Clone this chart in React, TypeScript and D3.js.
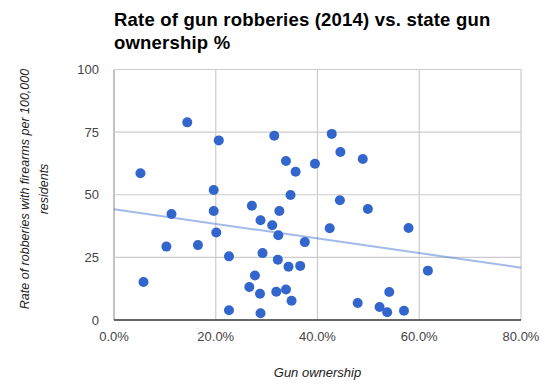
import { useRef, useEffect } from 'react';
import * as d3 from 'd3';

// ---------------------------------------------------------------------------
// Data (gun ownership %, gun robberies per 100k)
// ---------------------------------------------------------------------------
const OWNERSHIP = [
  14.4, 20.6, 31.5, 33.8, 35.7, 39.5, 5.2, 19.6, 34.7, 42.8, 44.5, 48.9, 44.4, 11.3, 19.6, 27.1,
  32.5, 28.8, 31.1, 32.3, 37.5, 20.1, 10.3, 16.5, 22.6, 29.2, 32.2, 34.3, 36.6, 27.7, 5.8, 26.6,
  28.7, 31.9, 33.8, 34.9, 22.6, 28.8, 49.9, 42.4, 57.9, 61.7, 54.1, 47.9, 52.2, 53.7, 57.0,
];
const ROBBERY_RATE = [
  78.9, 71.7, 73.6, 63.5, 59.2, 62.4, 58.6, 51.9, 49.9, 74.3, 67.1, 64.3, 47.8, 42.3, 43.5, 45.6,
  43.5, 39.8, 37.8, 33.8, 31.1, 34.9, 29.3, 29.9, 25.4, 26.7, 24.1, 21.3, 21.6, 17.8, 15.2, 13.2,
  10.5, 11.3, 12.2, 7.7, 3.9, 2.7, 44.3, 36.6, 36.7, 19.7, 11.2, 6.8, 5.2, 3.1, 3.7,
];
// linear trendline value at 0% and at 80%
const TREND = [
  { x: 0, y: 44.2 },
  { x: 80, y: 20.9 },
];
const X_TICKS = [0, 20, 40, 60, 80];
const Y_TICKS = [0, 25, 50, 75, 100];

const TITLE_LINES = ['Rate of gun robberies (2014) vs. state gun', 'ownership %'];
const Y_TITLE_LINES = ['Rate of robberies with firearms per 100,000', 'residents'];
const X_TITLE = 'Gun ownership';

const DOT = '#3366cc';
const FONT = 'Arial, "Liberation Sans", sans-serif';

export default function App() {
  const svgRef = useRef<SVGSVGElement>(null);

  useEffect(() => {
    const svg = svgRef.current;
    if (!svg) return;
    const sel = d3.select(svg);
    sel.selectAll('*').remove();

    const width = 545;
    const height = 389;
    const left = 114;
    const right = 521;
    const top = 69.5;
    const bottom = 320;

    sel.append('rect').attr('width', width).attr('height', height).attr('fill', '#fff');

    const x = d3.scaleLinear().domain([0, 80]).range([left, right]);
    const y = d3.scaleLinear().domain([0, 100]).range([bottom, top]);

    // Gridlines
    X_TICKS.forEach((t) => {
      sel.append('line')
        .attr('x1', x(t)).attr('x2', x(t))
        .attr('y1', top).attr('y2', bottom)
        .attr('stroke', t === 0 ? '#999' : '#ccc')
        .attr('stroke-width', 1.2);
    });
    Y_TICKS.forEach((t) => {
      sel.append('line')
        .attr('x1', left).attr('x2', right)
        .attr('y1', y(t)).attr('y2', y(t))
        .attr('stroke', t === 0 ? '#333' : '#ccc')
        .attr('stroke-width', t === 0 ? 1.5 : 1.2);
    });

    // Tick labels
    Y_TICKS.forEach((t) => {
      sel.append('text')
        .attr('x', left - 15)
        .attr('y', y(t) + 4.5)
        .attr('text-anchor', 'end')
        .attr('font-family', FONT)
        .attr('font-size', '13px')
        .attr('fill', '#444')
        .text(String(t));
    });
    X_TICKS.forEach((t) => {
      sel.append('text')
        .attr('x', x(t))
        .attr('y', 341)
        .attr('text-anchor', 'middle')
        .attr('font-family', FONT)
        .attr('font-size', '13px')
        .attr('fill', '#444')
        .text(`${t.toFixed(1)}%`);
    });

    // Trendline
    const line = d3.line<{ x: number; y: number }>().x((d) => x(d.x)).y((d) => y(d.y));
    sel.append('path')
      .datum(TREND)
      .attr('d', line)
      .attr('fill', 'none')
      .attr('stroke', DOT)
      .attr('stroke-opacity', 0.45)
      .attr('stroke-width', 2);

    // Points
    OWNERSHIP.forEach((o, i) => {
      sel.append('circle')
        .attr('cx', x(o))
        .attr('cy', y(ROBBERY_RATE[i]))
        .attr('r', 5)
        .attr('fill', DOT);
    });

    // Title
    TITLE_LINES.forEach((s, i) => {
      sel.append('text')
        .attr('x', 114)
        .attr('y', 26 + i * 23)
        .attr('font-family', FONT)
        .attr('font-size', '18.5px')
        .attr('letter-spacing', '0.2px')
        .attr('font-weight', 'bold')
        .attr('fill', '#000')
        .text(s);
    });

    // Axis titles
    const yMid = 189;
    Y_TITLE_LINES.forEach((s, i) => {
      const tx = 29 + i * 19;
      sel.append('text')
        .attr('transform', `translate(${tx},${yMid}) rotate(-90)`)
        .attr('text-anchor', 'middle')
        .attr('font-family', FONT)
        .attr('font-size', '12.5px')
        .attr('font-style', 'italic')
        .attr('fill', '#222')
        .text(s);
    });
    sel.append('text')
      .attr('x', (left + right) / 2)
      .attr('y', 377)
      .attr('text-anchor', 'middle')
      .attr('font-family', FONT)
      .attr('font-size', '13px')
      .attr('font-style', 'italic')
      .attr('fill', '#222')
      .text(X_TITLE);
  }, []);

  return (
    <div style={{ position: 'absolute', left: 0, top: 0 }}>
      <svg ref={svgRef} width={545} height={389} style={{ display: 'block' }} />
    </div>
  );
}
